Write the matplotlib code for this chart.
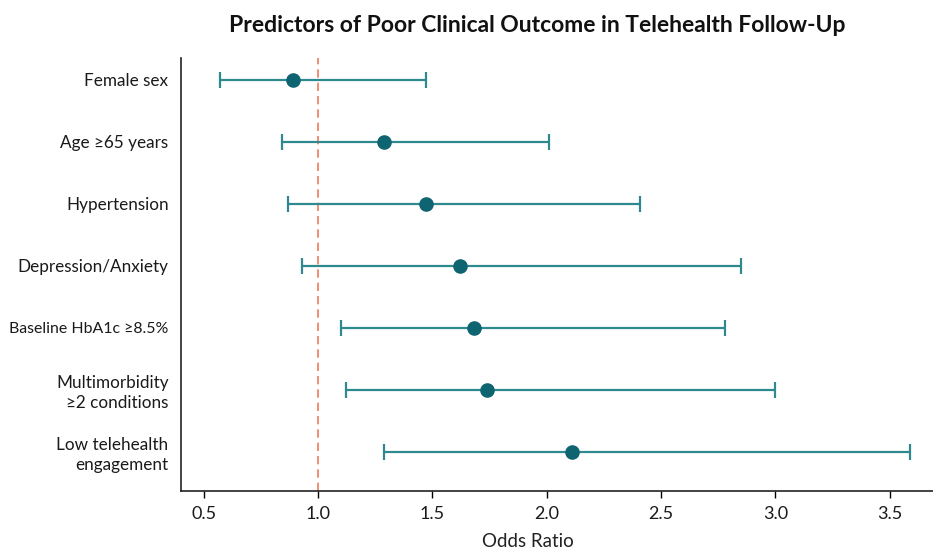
import numpy as np
import matplotlib
matplotlib.use('Agg')
from matplotlib import pyplot as plt

predictors = ['Female sex', 'Age \u226565 years', 'Hypertension', 'Depression/Anxiety',
              'Baseline HbA1c \u22658.5%', 'Multimorbidity\n\u22652 conditions',
              'Low telehealth\nengagement']
odds_ratio = [0.89, 1.29, 1.47, 1.62, 1.68, 1.74, 2.11]
ci_low = [0.57, 0.84, 0.87, 0.93, 1.10, 1.12, 1.29]
ci_high = [1.47, 2.01, 2.41, 2.85, 2.78, 3.00, 3.59]
x_ticks = [0.5, 1.0, 1.5, 2.0, 2.5, 3.0, 3.5]

plt.rcParams['font.family'] = ['Lato', 'DejaVu Sans']

fig = plt.figure(figsize=(9.33, 5.5), dpi=100)
ax = fig.add_axes([181/933, 1 - 491/550, 1 - 181/933, (491 - 58)/550])

y = np.arange(len(predictors))
or_arr = np.array(odds_ratio)
err = [or_arr - np.array(ci_low), np.array(ci_high) - or_arr]

ax.errorbar(odds_ratio, y, xerr=err, fmt='none', ecolor='#2f8a90',
            elinewidth=1.6, capsize=6, capthick=1.6, zorder=2)
ax.scatter(odds_ratio, y, s=90, color='#0e6470', zorder=3)
ax.axvline(1.0, color='#f07a5c', ls=(0, (5, 3)), lw=1.2, zorder=1)

ax.set_yticks(y)
ax.set_yticklabels(predictors, fontsize=12.3, color='#1a1a1a', linespacing=1.3)
# the long HbA1c label is a touch smaller so it fits the left margin
ax.get_yticklabels()[4].set_fontsize(11.4)
ax.tick_params(axis='y', length=0, pad=9)
ax.set_ylim(6.63, -0.35)

ax.set_xticks(x_ticks)
ax.set_xticklabels(['%.1f' % t for t in x_ticks], fontsize=13, color='#1a1a1a')
ax.tick_params(axis='x', length=5, width=1, pad=6)
ax.set_xlim(0.4, 3.69)

ax.spines['top'].set_visible(False)
ax.spines['right'].set_visible(False)
for s in ['left', 'bottom']:
    ax.spines[s].set_linewidth(1.2)
    ax.spines[s].set_color('#222222')

ax.set_xlabel('Odds Ratio', fontsize=13.5, color='#222222')
ax.xaxis.set_label_coords((528 - 181) / (933 - 181), -0.097)

fig.text(537/933, 1 - 25/550, 'Predictors of Poor Clinical Outcome in Telehealth Follow-Up',
         ha='center', va='center', fontsize=16.5, fontweight='bold', color='#111111')

fig.savefig('out.png', dpi=100)
